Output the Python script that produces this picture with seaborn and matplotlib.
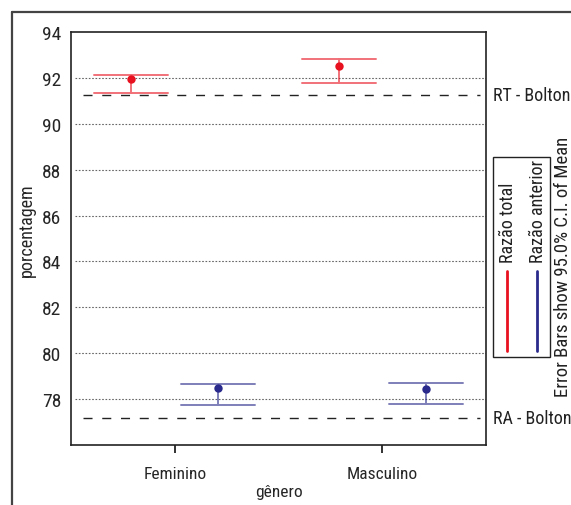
import matplotlib
matplotlib.use("Agg")
import matplotlib.pyplot as plt
import matplotlib.transforms as mtransforms
from matplotlib.lines import Line2D
from matplotlib.patches import Rectangle
import seaborn as sns
import pandas as pd

# ---- data ----
genero = ["Feminino", "Masculino"]
series = ["Razão total", "Razão anterior"]
rt_lower = [91.35, 91.78]
rt_mean = [91.93, 92.51]
rt_upper = [92.12, 92.82]
ra_lower = [77.74, 77.80]
ra_mean = [78.49, 78.45]
ra_upper = [78.65, 78.71]
bolton_rt = 91.25
bolton_ra = 77.19
yticks = [78, 80, 82, 84, 86, 88, 90, 92, 94]

sns.set_style("white")
plt.rcParams['font.family'] = ['Roboto Condensed', 'Liberation Sans', 'DejaVu Sans']
plt.rcParams['text.color'] = '#222222'

rows = []
for i, g in enumerate(genero):
    for s, lo, me, up in [(series[0], rt_lower, rt_mean, rt_upper),
                          (series[1], ra_lower, ra_mean, ra_upper)]:
        for v in (lo[i], me[i], up[i]):
            rows.append({"gênero": g, "serie": s, "porcentagem": v})
df = pd.DataFrame(rows)

W, H = 571, 506
fig = plt.figure(figsize=(W / 100, H / 100), dpi=100)
ax = fig.add_axes([71 / W, 1 - 446 / H, 415 / W, 413 / H])

red = "#e8111f"
blue = "#2a2a8c"
sns.pointplot(data=df, x="gênero", y="porcentagem", hue="serie",
              hue_order=series, order=genero,
              palette=[red, blue], estimator="median", errorbar=("pi", 100),
              dodge=0.42, linestyle="none", capsize=0.356, markersize=4,
              err_kws={"linewidth": 1.4, "alpha": 0.6}, legend=False, ax=ax)

ax.set_xlim(-0.5, 1.5)
ax.set_ylim(76, 94)
ax.set_yticks(yticks)
ax.set_yticklabels([str(t) for t in yticks], fontsize=14)
ax.tick_params(axis='y', length=0, pad=7)
ax.tick_params(axis='x', length=6, width=1.3, direction='out', pad=9,
               labelsize=12.5, color='#222222', bottom=True)
for sp in ax.spines.values():
    sp.set_visible(True)
    sp.set_color('#222222')
    sp.set_linewidth(1.2)

for t in yticks:
    if t < 94:
        ax.axhline(t, xmin=0.01, xmax=1, color='#666666', lw=0.8,
                   ls=(0, (1.5, 1.5)), zorder=0)
for b in (bolton_rt, bolton_ra):
    ax.axhline(b, xmin=0.029, xmax=0.985, color='#222222', lw=1.0,
               ls=(0, (6.5, 7)), zorder=1)

ax.set_xlabel("gênero", fontsize=12.5)
ax.set_ylabel("porcentagem", fontsize=13)
ax.xaxis.set_label_coords(0.5, (446 - 493) / 413, transform=ax.transAxes)
ax.xaxis.label.set_va('center')
ax.yaxis.set_label_coords((27 - 71) / 415, (446 - 230) / 413, transform=ax.transAxes)
ax.yaxis.label.set_va('center')

blend = mtransforms.blended_transform_factory(ax.transAxes, ax.transData)
ax.text(1.017, bolton_rt, "RT - Bolton", transform=blend, va='center',
        ha='left', fontsize=13, clip_on=False)
ax.text(1.017, bolton_ra, "RA - Bolton", transform=blend, va='center',
        ha='left', fontsize=13, clip_on=False)

# outer frame
fig.add_artist(Line2D([12 / W, 12 / W], [0, 1 - 13 / H], color='#444444', lw=1.6))
fig.add_artist(Line2D([12 / W, 1], [1 - 13 / H, 1 - 13 / H], color='#444444', lw=1.6))

# legend (rotated)
fig.add_artist(Rectangle((493 / W, 1 - 358 / H), 57 / W, 200 / H,
                         fill=False, edgecolor='#222222', lw=1.0))
fig.text(508 / W, 1 - 263 / H, series[0], rotation=90, ha='center',
         va='bottom', fontsize=13)
fig.text(538 / W, 1 - 263 / H, series[1], rotation=90, ha='center',
         va='bottom', fontsize=13)
fig.add_artist(Line2D([507 / W, 507 / W], [1 - 352 / H, 1 - 272 / H], color=red, lw=2))
fig.add_artist(Line2D([537 / W, 537 / W], [1 - 352 / H, 1 - 272 / H], color=blue, lw=2))
fig.text(563 / W, 1 - 397 / H, "Error Bars show 95.0% C.I. of Mean", rotation=90,
         ha='center', va='bottom', fontsize=13.5)

fig.savefig("out.png", dpi=100)
